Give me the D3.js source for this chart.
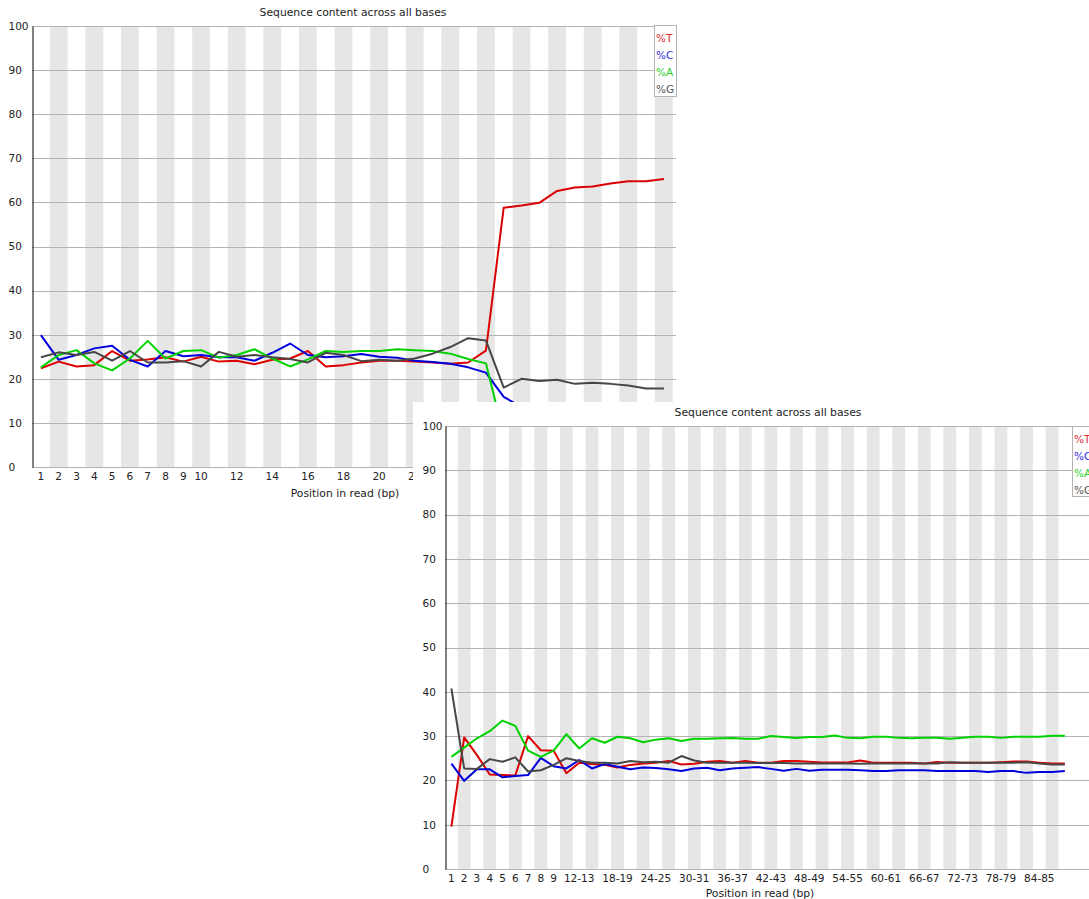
<!DOCTYPE html>
<html><head><meta charset="utf-8">
<script src="https://cdn.jsdelivr.net/npm/d3@7"></script>
<style>
body{margin:0;background:#fff;}
svg{display:block;}
text{font-family:"DejaVu Sans",sans-serif;}
</style></head><body>
<svg id="c" width="1089" height="899"></svg>
<script>
// ---------- DATA ----------
const seriesNames = ["%T", "%C", "%A", "%G"];
const yTicks = [0, 10, 20, 30, 40, 50, 60, 70, 80, 90, 100];

// Chart 1 (top-left): positions 1..36
const positions1 = d3.range(1, 37).map(String);
const tickLabels1 = ["1","2","3","4","5","6","7","8","9","10","12","14","16","18","20","22","24","26","28","30","32","34","36"];
const t1 = [22.4,23.9,22.8,23.1,26.3,24.1,24.4,24.9,23.9,25.0,23.9,24.1,23.3,24.3,24.6,26.3,22.8,23.1,23.7,24.1,24.1,23.9,23.7,23.4,23.7,26.4,58.8,59.3,59.9,62.6,63.4,63.6,64.3,64.8,64.8,65.3];
const c1 = [29.9,24.3,25.4,26.9,27.5,24.3,22.8,26.3,25.1,25.4,24.9,24.9,24.1,25.9,28.0,25.4,24.9,25.1,25.6,25.0,24.8,24.1,23.8,23.4,22.6,21.4,15.9,13.6,12.9,11.5,11.8,11.4,11.1,11.0,11.5,11.2];
const a1 = [22.6,25.4,26.5,23.5,21.9,24.6,28.6,24.6,26.3,26.5,24.8,25.4,26.7,24.6,22.8,24.4,26.3,26.1,26.3,26.3,26.7,26.5,26.3,25.7,24.5,23.5,7.3,7.1,7.7,6.1,5.95,5.9,5.75,5.7,5.9,5.7];
const g1 = [24.9,26.0,25.4,26.1,24.1,26.3,23.7,23.7,24.0,22.8,26.1,25.0,25.4,24.9,24.5,23.7,25.9,25.4,24.0,24.3,24.1,24.6,25.7,27.2,29.2,28.7,18.0,20.0,19.5,19.8,18.85,19.1,18.85,18.5,17.8,17.8];

// Chart 2 (bottom-right): positions 1..9 then pairs 10-11 .. 88-89
const positions2 = ["1","2","3","4","5","6","7","8","9","10-11","12-13","14-15","16-17","18-19","20-21","22-23","24-25","26-27","28-29","30-31","32-33","34-35","36-37","38-39","40-41","42-43","44-45","46-47","48-49","50-51","52-53","54-55","56-57","58-59","60-61","62-63","64-65","66-67","68-69","70-71","72-73","74-75","76-77","78-79","80-81","82-83","84-85","86-87","88-89"];
const tickLabels2 = ["1","2","3","4","5","6","7","8","9","12-13","18-19","24-25","30-31","36-37","42-43","48-49","54-55","60-61","66-67","72-73","78-79","84-85"];
const t2 = [9.55,29.7,25.7,21.35,21.2,21.1,30.0,26.8,26.7,21.6,24.0,23.7,23.5,22.9,23.5,23.8,24.0,24.4,23.6,23.75,24.2,24.4,24.0,24.4,24.0,24.0,24.4,24.4,24.2,24.05,24.05,24.05,24.5,24.0,24.0,24.0,24.0,23.8,24.15,24.0,24.0,24.0,24.0,24.1,24.25,24.25,24.0,23.8,23.8];
const c2 = [23.8,19.9,22.5,22.5,20.7,21.0,21.2,25.1,23.2,22.7,24.6,22.7,23.7,23.1,22.5,22.9,22.8,22.5,22.1,22.7,22.85,22.3,22.7,22.85,23.0,22.6,22.2,22.6,22.2,22.4,22.4,22.4,22.3,22.1,22.1,22.3,22.3,22.3,22.1,22.1,22.1,22.1,21.9,22.1,22.1,21.7,21.9,21.9,22.1];
const a2 = [25.3,27.4,29.5,31.1,33.5,32.3,26.7,25.3,26.7,30.45,27.2,29.5,28.5,29.85,29.5,28.6,29.2,29.5,28.9,29.4,29.4,29.5,29.55,29.4,29.4,30.0,29.8,29.55,29.8,29.8,30.15,29.6,29.5,29.85,29.85,29.6,29.5,29.6,29.6,29.4,29.6,29.85,29.85,29.6,29.85,29.85,29.85,30.1,30.1];
const g2 = [40.75,22.7,22.6,24.8,24.2,25.2,22.0,22.3,23.5,25.0,24.4,24.0,24.0,23.8,24.4,24.1,24.2,24.0,25.5,24.5,24.0,24.0,24.0,24.0,23.9,23.9,23.9,23.8,23.8,23.8,23.8,23.8,23.75,23.8,23.8,23.8,23.8,23.8,23.8,24.1,24.0,24.0,24.0,24.0,24.0,24.1,23.8,23.6,23.6];

// ---------- STYLE / LAYOUT ----------
const colors = ["#dc0000", "#0000dc", "#00d200", "#474747"];
const legendColors = ["#e03030", "#3030e0", "#30d030", "#555555"];
const titleText = "Sequence content across all bases";
const xTitleText = "Position in read (bp)";

const layout1 = {bg:null, left:32, top:26, bottom:467, bw:17.8, gridRight:676,
  titleX:353, titleY:16, xTitleX:345, xTitleY:497, yLabelX:8, xLabelY:480,
  legend:{x:654, y:25, w:22, h:71}};
const layout2 = {bg:[413,402,700,520], left:445, top:426, bottom:869, bw:12.78, gridRight:1094,
  titleX:768, titleY:416, xTitleX:760, xTitleY:897, yLabelX:422, xLabelY:882,
  legend:{x:1072, y:426, w:22, h:70}};

const svg = d3.select("#c");

function drawChart(L, cats, series, tickLabels) {
  const g = svg.append("g");
  if (L.bg) g.append("rect").attr("x", L.bg[0]).attr("y", L.bg[1]).attr("width", L.bg[2]).attr("height", L.bg[3]).attr("fill", "#fff");

  const x = d3.scaleBand().domain(cats).range([L.left, L.left + cats.length * L.bw]);
  const y = d3.scaleLinear().domain([0, 100]).range([L.bottom, L.top]);
  const bw = x.bandwidth();

  // alternating stripes
  g.append("g").selectAll("rect").data(cats.filter((d, i) => i % 2 === 1)).join("rect")
    .attr("x", d => x(d)).attr("y", y(100)).attr("width", bw).attr("height", y(0) - y(100))
    .attr("fill", "#e6e6e6");

  // grid lines
  g.append("g").selectAll("line").data(yTicks).join("line")
    .attr("x1", L.left).attr("x2", L.gridRight)
    .attr("y1", d => Math.round(y(d)) + 0.5).attr("y2", d => Math.round(y(d)) + 0.5)
    .attr("stroke", "#b4b4b4").attr("stroke-width", 1);

  // y axis
  const ya = g.append("g").attr("transform", `translate(${L.left + 0.5},0)`)
    .call(d3.axisLeft(y).tickValues(yTicks).tickSize(0).tickSizeOuter(0));
  ya.select(".domain").attr("stroke", "#000");
  ya.selectAll("text").attr("x", L.yLabelX - L.left).attr("text-anchor", "start")
    .attr("font-size", 10.5).attr("fill", "#222").attr("font-family", "DejaVu Sans");

  // x axis labels
  const xa = g.append("g").attr("transform", `translate(0,${L.bottom})`)
    .call(d3.axisBottom(x).tickValues(tickLabels).tickSize(0));
  xa.select(".domain").remove();
  xa.selectAll("text").attr("y", L.xLabelY - L.bottom).attr("dy", null)
    .attr("font-size", 10.5).attr("fill", "#222").attr("font-family", "DejaVu Sans");

  // series lines
  const line = d3.line().x((d, i) => x(cats[i]) + bw / 2).y(d => y(d));
  series.forEach((s, k) => {
    g.append("path").datum(s).attr("d", line).attr("fill", "none")
      .attr("stroke", colors[k]).attr("stroke-width", 2).attr("stroke-linejoin", "round");
  });

  // titles
  g.append("text").attr("x", L.titleX).attr("y", L.titleY).attr("text-anchor", "middle")
    .attr("font-size", 10.8).attr("fill", "#222").text(titleText);
  g.append("text").attr("x", L.xTitleX).attr("y", L.xTitleY).attr("text-anchor", "middle")
    .attr("font-size", 10.8).attr("fill", "#222").text(xTitleText);

  // legend
  const lg = g.append("g");
  lg.append("rect").attr("x", L.legend.x + 0.5).attr("y", L.legend.y + 0.5)
    .attr("width", L.legend.w).attr("height", L.legend.h)
    .attr("fill", "#fff").attr("stroke", "#b4b4b4");
  seriesNames.forEach((n, k) => {
    lg.append("text").attr("x", L.legend.x + 2).attr("y", L.legend.y + 17 + k * 17)
      .attr("font-size", 10.5).attr("fill", legendColors[k]).text(n);
  });
}

drawChart(layout1, positions1, [t1, c1, a1, g1], tickLabels1);
drawChart(layout2, positions2, [t2, c2, a2, g2], tickLabels2);
</script>
</body></html>
